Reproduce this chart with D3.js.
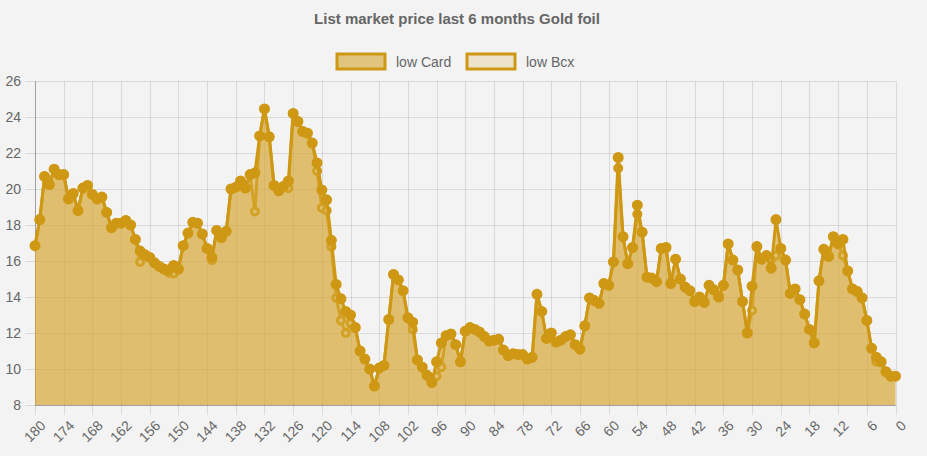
<!DOCTYPE html>
<html>
<head>
<meta charset="utf-8">
<script src="https://cdn.jsdelivr.net/npm/d3@7"></script>
<style>
  html, body { margin: 0; padding: 0; background: #f3f3f3; }
  svg { display: block; font-family: "Helvetica Neue", Helvetica, Arial, "Liberation Sans", sans-serif; }
</style>
</head>
<body>
<svg id="chart" width="927" height="456"></svg>
<script>
var chartTitle = 'List market price last 6 months Gold foil';
var seriesNames = ['low Card', 'low Bcx'];

// one value per day, from 180 days ago to today
var lowCard = [
  16.85, 18.3, 20.7, 20.25, 21.1, 20.8, 20.8, 19.45, 19.75, 18.8,
  20.05, 20.2, 19.7, 19.45, 19.55, 18.7, 17.85, 18.1, 18.1, 18.25,
  18.0, 17.2, 16.55, 16.35, 16.2, 15.9, 15.7, 15.55, 15.5, 15.75,
  15.55, 16.85, 17.55, 18.15, 18.1, 17.5, 16.7, 16.2, 17.7, 17.3,
  17.65, 20.0, 20.1, 20.45, 20.05, 20.8, 20.9, 22.95, 24.45, 22.9,
  20.2, 19.9, 20.15, 20.45, 24.2, 23.75, 23.2, 23.1, 22.55, 21.45,
  19.95, 19.4, 17.15, 14.7, 13.9, 13.2, 13.0, 12.3, 11.0, 10.55,
  10.0, 9.05, 10.05, 10.2, 12.75, 15.25, 14.95, 14.35, 12.85, 12.6,
  10.5, 10.1, 9.65, 9.25, 10.4, 11.45, 11.85, 11.95, 11.35, 10.4,
  12.1, 12.3, 12.2, 12.05, 11.8, 11.55, 11.6, 11.65, 11.05, 10.75,
  10.85, 10.8, 10.8, 10.55, 10.65, 14.15, 13.2, 11.7, 12.0, 11.5,
  11.6, 11.8, 11.9, 11.35, 11.1, 12.4, 13.95, 13.8, 13.65, 14.75,
  14.65, 15.95, 21.75, 17.35, 15.85, 16.75, 19.1, 17.6, 15.1, 15.05,
  14.85, 16.7, 16.75, 14.75, 16.1, 15.0, 14.55, 14.35, 13.75, 14.0,
  13.7, 14.65, 14.4, 14.0, 14.65, 16.95, 16.05, 15.5, 13.75, 12.0,
  14.6, 16.8, 16.1, 16.3, 15.6, 18.3, 16.7, 16.05, 14.2, 14.45,
  13.85, 13.05, 12.2, 11.45, 14.9, 16.65, 16.25, 17.35, 16.95, 17.2,
  15.45, 14.45, 14.3, 13.95, 12.7, 11.15, 10.65, 10.4, 9.85, 9.6,
  9.6
];

var lowBcx = [
  16.85, 18.3, 20.7, 20.25, 21.1, 20.8, 20.8, 19.45, 19.75, 18.8,
  20.05, 20.2, 19.7, 19.45, 19.55, 18.7, 17.85, 18.1, 18.1, 18.25,
  18.0, 17.2, 15.95, 16.35, 16.2, 15.9, 15.7, 15.55, 15.35, 15.3,
  15.55, 16.85, 17.55, 18.15, 18.1, 17.5, 16.7, 16.05, 17.7, 17.3,
  17.65, 20.0, 20.1, 20.45, 20.05, 20.8, 18.75, 22.95, 24.45, 22.9,
  20.2, 19.9, 20.15, 20.05, 24.2, 23.75, 23.2, 23.1, 22.55, 21.0,
  18.95, 18.8, 16.8, 13.95, 12.7, 12.0, 12.55, 12.3, 11.0, 10.55,
  10.0, 9.05, 10.05, 10.2, 12.75, 15.25, 14.95, 14.35, 12.85, 12.2,
  10.5, 10.1, 9.65, 9.25, 9.6, 10.1, 11.85, 11.95, 11.35, 10.4,
  12.1, 12.3, 12.2, 12.05, 11.8, 11.55, 11.6, 11.65, 11.05, 10.75,
  10.85, 10.8, 10.8, 10.55, 10.65, 14.15, 13.2, 11.7, 12.0, 11.5,
  11.6, 11.8, 11.9, 11.35, 11.1, 12.4, 13.95, 13.8, 13.65, 14.75,
  14.65, 15.95, 21.15, 17.35, 15.85, 16.75, 18.6, 17.6, 15.1, 15.05,
  14.85, 16.7, 16.75, 14.75, 16.1, 15.0, 14.55, 14.35, 13.75, 14.0,
  13.7, 14.65, 14.4, 14.0, 14.65, 16.95, 16.05, 15.5, 13.75, 12.0,
  13.25, 16.8, 16.1, 16.3, 15.6, 16.3, 16.7, 16.05, 14.2, 14.45,
  13.85, 13.05, 12.2, 11.45, 14.9, 16.65, 16.25, 17.35, 16.95, 16.3,
  15.45, 14.45, 14.3, 13.95, 12.7, 11.15, 10.4, 10.4, 9.85, 9.6,
  9.6
];

var xTickLabels = [180, 174, 168, 162, 156, 150, 144, 138, 132, 126, 120, 114, 108, 102, 96,
  90, 84, 78, 72, 66, 60, 54, 48, 42, 36, 30, 24, 18, 12, 6, 0];
var yTickLabels = [8, 10, 12, 14, 16, 18, 20, 22, 24, 26];

var gold = 'rgb(207,152,20)';
var textColor = '#666';
var gridColor = 'rgba(0,0,0,0.1)';

var svg = d3.select('#chart');

var x = d3.scaleLinear().domain([180, 0]).range([35, 895.5]);
var y = d3.scaleLinear().domain([8, 26]).range([405, 81]);

function dayOf(i) { return 180 - i; }

// title
svg.append('text')
  .attr('x', 457)
  .attr('y', 24)
  .attr('text-anchor', 'middle')
  .style('font-size', '15px')
  .style('font-weight', 'bold')
  .style('fill', textColor)
  .text(chartTitle);

// legend
var legend = [
  { name: seriesNames[0], fill: 'rgba(214,166,48,0.6)', x: 337 },
  { name: seriesNames[1], fill: 'rgba(214,166,48,0.2)', x: 467 }
];
var lg = svg.selectAll('g.legend').data(legend).enter().append('g').attr('class', 'legend');
lg.append('rect')
  .attr('x', function(d) { return d.x; })
  .attr('y', 54)
  .attr('width', 48)
  .attr('height', 15)
  .style('fill', function(d) { return d.fill; })
  .style('stroke', gold)
  .style('stroke-width', 3);
lg.append('text')
  .attr('x', function(d) { return d.x + 59; })
  .attr('y', 66.5)
  .style('font-size', '14px')
  .style('fill', textColor)
  .text(function(d) { return d.name; });

// grid
var grid = svg.append('g');
grid.selectAll('line.h').data(yTickLabels).enter().append('line')
  .attr('x1', 25).attr('x2', 895.5)
  .attr('y1', function(d) { return Math.round(y(d)) + 0.5; })
  .attr('y2', function(d) { return Math.round(y(d)) + 0.5; })
  .style('stroke', gridColor);
grid.selectAll('line.v').data(xTickLabels).enter().append('line')
  .attr('x1', function(d) { return Math.round(x(d)) + 0.5; })
  .attr('x2', function(d) { return Math.round(x(d)) + 0.5; })
  .attr('y1', 81).attr('y2', 415)
  .style('stroke', gridColor);
// axis lines
grid.append('line').attr('x1', 35.5).attr('x2', 35.5).attr('y1', 81).attr('y2', 405)
  .style('stroke', 'rgba(0,0,0,0.25)');
grid.append('line').attr('x1', 35).attr('x2', 896).attr('y1', 405.5).attr('y2', 405.5)
  .style('stroke', 'rgba(0,0,0,0.25)');

// y labels
svg.selectAll('text.ylab').data(yTickLabels).enter().append('text')
  .attr('x', 21)
  .attr('y', function(d) { return y(d); })
  .attr('dy', '0.35em')
  .attr('text-anchor', 'end')
  .style('font-size', '14px')
  .style('fill', textColor)
  .text(function(d) { return d; });

// x labels, rotated
svg.selectAll('text.xlab').data(xTickLabels).enter().append('text')
  .attr('transform', function(d) { return 'translate(' + (x(d) + 8) + ',423) rotate(-45)'; })
  .attr('dy', '0.35em')
  .attr('text-anchor', 'end')
  .style('font-size', '14px')
  .style('fill', textColor)
  .text(function(d) { return d; });

var area = d3.area()
  .x(function(d, i) { return x(dayOf(i)); })
  .y0(y(8))
  .y1(function(d) { return y(d); });
var line = d3.line()
  .x(function(d, i) { return x(dayOf(i)); })
  .y(function(d) { return y(d); });

function drawSeries(values, fill, pointFill, r) {
  var g = svg.append('g');
  g.append('path').attr('d', area(values)).style('fill', fill);
  g.append('path').attr('d', line(values))
    .style('fill', 'none')
    .style('stroke', gold)
    .style('stroke-width', 3)
    .style('stroke-linejoin', 'round');
  g.selectAll('circle').data(values).enter().append('circle')
    .attr('cx', function(d, i) { return x(dayOf(i)); })
    .attr('cy', function(d) { return y(d); })
    .attr('r', r)
    .style('fill', pointFill)
    .style('stroke', gold)
    .style('stroke-width', 3);
}

drawSeries(lowBcx, 'rgba(214,166,48,0.2)', '#efe3c6', 3.5);
drawSeries(lowCard, 'rgba(214,166,48,0.6)', gold, 4);
</script>
</body>
</html>
